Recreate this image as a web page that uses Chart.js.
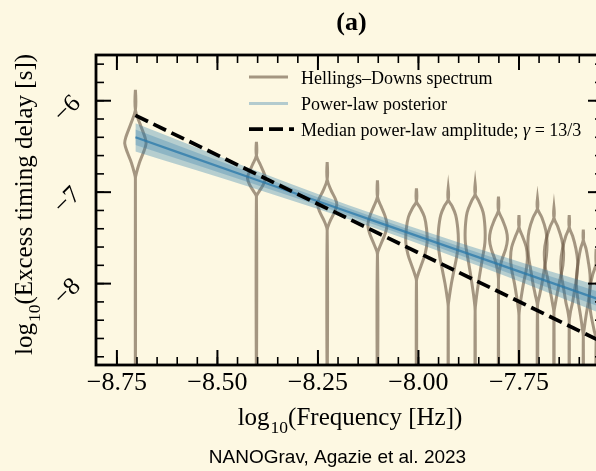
<!DOCTYPE html>
<html>
<head>
<meta charset="utf-8">
<script src="https://cdn.jsdelivr.net/npm/chart.js@4.4.1/dist/chart.umd.min.js"></script>
<style>
  html, body { margin: 0; padding: 0; background: #fdf8e2; overflow: hidden; width: 596px; height: 471px; }
  canvas { display: block; }
</style>
</head>
<body>
<canvas id="c" width="612" height="471" style="width:612px;height:471px"></canvas>
<script>
// ---- axis ticks ----
const xTickValues = [-8.75, -8.5, -8.25, -8.0, -7.75];
const xTickLabels = ['\u22128.75', '\u22128.50', '\u22128.25', '\u22128.00', '\u22127.75'];
const yTickValues = [-6, -7, -8];
const yTickLabels = ['\u22126', '\u22127', '\u22128'];

// ---- Hellings-Downs free spectrum (violins) ----
const violinLogFreq = [-8.704, -8.403, -8.227, -8.102, -8.005, -7.926, -7.859, -7.801, -7.750, -7.704, -7.663, -7.625, -7.590, -7.558];
const violinTop = [-5.88, -6.45, -6.67, -6.87, -6.96, -6.96, -6.91, -7.05, -7.25, -7.07, -7.17, -7.25, -7.41, -7.62];
// [log10 delay, relative density] from the top of each body downward
const violinDensity = [
  [[-6.10,0],[-6.25,0.42],[-6.40,0.9],[-6.47,1],[-6.57,0.74],[-6.68,0.37],[-6.79,0.1],[-6.85,0]],
  [[-6.60,0],[-6.70,0.37],[-6.80,0.74],[-6.85,0.84],[-6.92,0.63],[-7.00,0.21],[-7.05,0]],
  [[-6.86,0],[-6.98,0.37],[-7.08,0.79],[-7.14,0.9],[-7.22,0.68],[-7.32,0.26],[-7.42,0]],
  [[-7.05,0],[-7.15,0.32],[-7.27,0.74],[-7.36,0.9],[-7.45,0.74],[-7.57,0.32],[-7.68,0]],
  [[-7.10,0],[-7.17,0.35],[-7.27,0.75],[-7.40,0.95],[-7.55,1],[-7.68,0.8],[-7.80,0.45],[-7.90,0.15],[-7.97,0]],
  [[-7.08,0],[-7.15,0.35],[-7.25,0.7],[-7.40,0.9],[-7.55,0.95],[-7.70,0.8],[-7.85,0.55],[-8.00,0.3],[-8.15,0.1],[-8.25,0]],
  [[-7.02,0],[-7.10,0.35],[-7.22,0.75],[-7.38,0.92],[-7.55,0.92],[-7.70,0.72],[-7.85,0.5],[-8.00,0.3],[-8.15,0.12],[-8.30,0]],
  [[-7.20,0],[-7.30,0.37],[-7.42,0.74],[-7.52,0.84],[-7.62,0.68],[-7.74,0.32],[-7.85,0.1],[-7.95,0]],
  [[-7.38,0],[-7.48,0.32],[-7.60,0.68],[-7.72,0.79],[-7.85,0.68],[-8.00,0.42],[-8.15,0.21],[-8.28,0.05],[-8.35,0]],
  [[-7.18,0],[-7.28,0.42],[-7.42,0.79],[-7.55,0.9],[-7.70,0.84],[-7.85,0.63],[-8.00,0.42],[-8.12,0.21],[-8.25,0]],
  [[-7.28,0],[-7.38,0.37],[-7.52,0.74],[-7.65,0.9],[-7.80,0.84],[-7.95,0.58],[-8.10,0.32],[-8.22,0.13],[-8.32,0]],
  [[-7.38,0],[-7.48,0.32],[-7.62,0.63],[-7.76,0.79],[-7.90,0.74],[-8.05,0.53],[-8.20,0.32],[-8.32,0.1],[-8.42,0]],
  [[-7.52,0],[-7.62,0.26],[-7.76,0.47],[-7.90,0.63],[-8.05,0.63],[-8.20,0.47],[-8.35,0.26],[-8.48,0.1],[-8.58,0]],
  [[-7.78,0],[-7.90,0.32],[-8.05,0.58],[-8.20,0.63],[-8.35,0.47],[-8.50,0.21],[-8.62,0]]
];
const violinTailEnd = -9.6;
const violinHalfWidth = 0.0265; // log10 Hz at unit density

// ---- power-law posterior band ----
const bandLogFreq = [-8.704, -8.40, -8.10, -7.80, -7.50];
const bandMedian  = [-6.40, -6.87, -7.33, -7.79, -8.25];
const bandOuterHi = [-6.245, -6.77, -7.255, -7.69, -8.095];
const bandOuterLo = [-6.555, -6.97, -7.405, -7.89, -8.405];
const bandInnerHi = [-6.315, -6.815, -7.29, -7.735, -8.165];
const bandInnerLo = [-6.485, -6.925, -7.37, -7.845, -8.335];

// ---- median power-law amplitude, gamma = 13/3 ----
const dashLogFreq = [-8.704, -7.50];
const dashLogDelay = [-6.16, -8.73];

const BG = '#fdf8e2';
const SERIF = '"Liberation Serif", "Times New Roman", serif';
const VIOLIN_COLOR = 'rgba(100, 80, 58, 0.58)';
const BLUE = '40, 120, 170';

const pts = (xs, ys) => xs.map((x, i) => ({ x, y: ys[i] }));

function violinOutline(x0, top, prof) {
  const out = [{ x: x0, y: violinTailEnd }];
  for (let i = prof.length - 1; i >= 0; i--) out.push({ x: x0 - prof[i][1] * violinHalfWidth, y: prof[i][0] });
  out.push({ x: x0, y: top });
  for (let i = 0; i < prof.length; i++) out.push({ x: x0 + prof[i][1] * violinHalfWidth, y: prof[i][0] });
  out.push({ x: x0, y: violinTailEnd });
  return out;
}

const datasets = [
  { data: pts(dashLogFreq, dashLogDelay), borderColor: '#000', borderWidth: 3.75, borderDash: [14, 6], tension: 0, order: 0 },
  { data: pts(bandLogFreq, bandMedian), borderColor: `rgba(${BLUE},0.75)`, borderWidth: 2.2, cubicInterpolationMode: 'monotone', order: 1 },
  { data: pts(bandLogFreq, bandInnerHi), borderWidth: 0, fill: '+1', backgroundColor: `rgba(${BLUE},0.28)`, cubicInterpolationMode: 'monotone', order: 2 },
  { data: pts(bandLogFreq, bandInnerLo), borderWidth: 0, cubicInterpolationMode: 'monotone', order: 2 },
  { data: pts(bandLogFreq, bandOuterHi), borderWidth: 0, fill: '+1', backgroundColor: `rgba(${BLUE},0.33)`, cubicInterpolationMode: 'monotone', order: 3 },
  { data: pts(bandLogFreq, bandOuterLo), borderWidth: 0, cubicInterpolationMode: 'monotone', order: 3 }
];
violinLogFreq.forEach((f, i) => {
  datasets.push({
    data: violinOutline(f, violinTop[i], violinDensity[i]),
    borderColor: VIOLIN_COLOR, borderWidth: 3, tension: 0.35, order: 4
  });
});

function drawLogLabel(ctx, cx, baseY, rest, size) {
  const sub = size * 0.7;
  ctx.font = `${size}px ${SERIF}`;
  const w1 = ctx.measureText('log').width;
  const w3 = ctx.measureText(rest).width;
  ctx.font = `${sub}px ${SERIF}`;
  const w2 = ctx.measureText('10').width;
  const x0 = cx - (w1 + w2 + w3) / 2;
  ctx.textAlign = 'left';
  ctx.textBaseline = 'alphabetic';
  ctx.font = `${size}px ${SERIF}`;
  ctx.fillText('log', x0, baseY);
  ctx.font = `${sub}px ${SERIF}`;
  ctx.fillText('10', x0 + w1 + 1, baseY + size * 0.3);
  ctx.font = `${size}px ${SERIF}`;
  ctx.fillText(rest, x0 + w1 + w2 + 1, baseY);
}

const decor = {
  id: 'decor',
  beforeDraw(chart) {
    const ctx = chart.ctx;
    ctx.save();
    ctx.fillStyle = BG;
    ctx.fillRect(0, 0, chart.width, chart.height);
    ctx.restore();
  },
  afterDraw(chart) {
    const { ctx, chartArea: a, scales: { x, y } } = chart;
    ctx.save();
    ctx.strokeStyle = '#000';
    ctx.fillStyle = '#000';
    ctx.lineCap = 'butt';
    const seg = (x1, y1, x2, y2, w) => { ctx.lineWidth = w; ctx.beginPath(); ctx.moveTo(x1, y1); ctx.lineTo(x2, y2); ctx.stroke(); };

    // minor ticks
    for (let v = -8.80; v <= x.max + 1e-9; v += 0.05) {
      const px = x.getPixelForValue(v);
      if (px < a.left + 1) continue;
      seg(px, a.bottom, px, a.bottom - 8, 1.6);
      seg(px, a.top, px, a.top + 8, 1.6);
    }
    for (let v = -8.8; v <= y.max + 1e-9; v += 0.2) {
      const py = y.getPixelForValue(v);
      if (py > a.bottom - 1) continue;
      seg(a.left, py, a.left + 8, py, 1.6);
      seg(a.right, py, a.right - 8, py, 1.6);
    }
    // major ticks
    xTickValues.forEach(v => {
      const px = x.getPixelForValue(v);
      seg(px, a.bottom, px, a.bottom - 15, 2);
      seg(px, a.top, px, a.top + 15, 2);
    });
    yTickValues.forEach(v => {
      const py = y.getPixelForValue(v);
      seg(a.left, py, a.left + 15, py, 2);
      seg(a.right, py, a.right - 15, py, 2);
    });
    // frame
    ctx.lineWidth = 2.8;
    ctx.strokeRect(a.left, a.top, a.right - a.left, a.bottom - a.top);

    // x tick labels
    ctx.font = `26px ${SERIF}`;
    ctx.textAlign = 'center';
    ctx.textBaseline = 'alphabetic';
    xTickValues.forEach((v, i) => ctx.fillText(xTickLabels[i], x.getPixelForValue(v), a.bottom + 25));

    // y tick labels, set at an angle
    ctx.font = `25px ${SERIF}`;
    yTickValues.forEach((v, i) => {
      const py = y.getPixelForValue(v);
      ctx.save();
      ctx.translate(a.left - 28.5, py + 8.5);
      ctx.rotate(-Math.PI / 4);
      ctx.textAlign = 'center';
      ctx.textBaseline = 'middle';
      ctx.fillText(yTickLabels[i], 0, 0);
      ctx.restore();
    });

    // axis titles
    const cx = (a.left + a.right) / 2;
    drawLogLabel(ctx, cx, 425, '(Frequency [Hz])', 25);
    ctx.save();
    ctx.translate(32, (a.top + a.bottom) / 2 - 5);
    ctx.rotate(-Math.PI / 2);
    drawLogLabel(ctx, 0, 0, '(Excess timing delay [s])', 25);
    ctx.restore();

    // panel title
    ctx.font = `bold 26px ${SERIF}`;
    ctx.textAlign = 'center';
    ctx.fillText('(a)', cx + 2, 30);

    // credit line
    ctx.font = '19px "Liberation Sans", Arial, sans-serif';
    ctx.fillText('NANOGrav, Agazie et al. 2023', 337.5, 463);

    // legend
    const lx0 = 249, lx1 = 288, tx = 301;
    const rows = [77, 103.5, 129];
    ctx.strokeStyle = VIOLIN_COLOR;
    seg(lx0, rows[0], lx1, rows[0], 3);
    ctx.strokeStyle = `rgba(${BLUE},0.35)`;
    seg(lx0, rows[1], lx1, rows[1], 3);
    ctx.strokeStyle = '#000';
    ctx.setLineDash([14, 6]);
    seg(lx0, rows[2], lx1 + 6, rows[2], 3.75);
    ctx.setLineDash([]);
    ctx.fillStyle = '#000';
    ctx.font = `18px ${SERIF}`;
    ctx.textAlign = 'left';
    ctx.fillText('Hellings\u2013Downs spectrum', tx, rows[0] + 6.5);
    ctx.fillText('Power-law posterior', tx, rows[1] + 6.5);
    const t1 = 'Median power-law amplitude; ';
    ctx.fillText(t1, tx, rows[2] + 6.5);
    let px = tx + ctx.measureText(t1).width;
    ctx.font = `italic 18px ${SERIF}`;
    ctx.fillText('\u03B3', px, rows[2] + 6.5);
    px += ctx.measureText('\u03B3').width;
    ctx.font = `18px ${SERIF}`;
    ctx.fillText(' = 13/3', px, rows[2] + 6.5);
    ctx.restore();
  }
};

new Chart(document.getElementById('c'), {
  type: 'line',
  data: { datasets },
  options: {
    responsive: false,
    maintainAspectRatio: false,
    animation: false,
    devicePixelRatio: 1,
    layout: { padding: { left: 0, top: 55, right: 9, bottom: 0 } },
    elements: {
      point: { radius: 0, hoverRadius: 0 },
      line: { capBezierPoints: false, fill: false }
    },
    plugins: { legend: { display: false }, title: { display: false }, tooltip: { enabled: false } },
    events: [],
    scales: {
      x: {
        type: 'linear', min: -8.802, max: -7.541,
        grid: { display: false }, border: { display: false },
        ticks: { display: false },
        afterBuildTicks: s => { s.ticks = xTickValues.map(v => ({ value: v })); },
        afterFit: s => { s.height = 106; }
      },
      y: {
        type: 'linear', min: -8.89, max: -5.5,
        grid: { display: false }, border: { display: false },
        ticks: { display: false },
        afterBuildTicks: s => { s.ticks = yTickValues.map(v => ({ value: v })); },
        afterFit: s => { s.width = 96; }
      }
    }
  },
  plugins: [decor]
});
</script>
</body>
</html>
